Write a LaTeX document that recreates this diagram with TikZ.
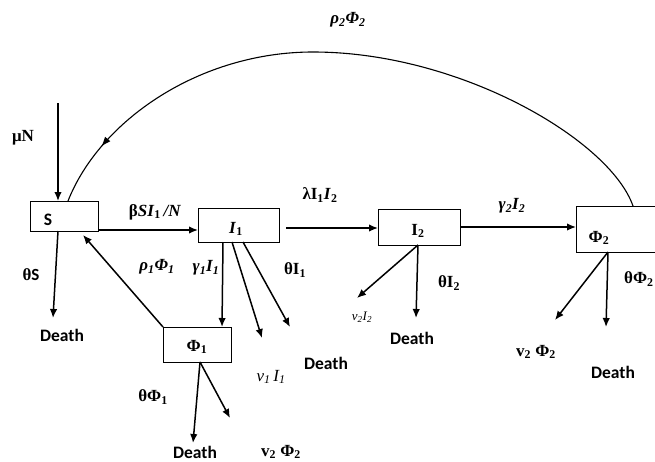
\documentclass[tikz,border=0pt]{standalone}
\usepackage{fontspec}
\setmainfont{Liberation Serif}
\newfontfamily\deathfont{Carlito}
\usetikzlibrary{arrows.meta,decorations.markings}
\begin{document}
\begin{tikzpicture}[x=1pt,y=-1pt,
  box/.style={draw, line width=0.9pt, inner sep=0pt},
  flow/.style={line width=1.5pt, -{Latex[length=9pt,width=7.5pt]}},
  curvy/.style={line width=1.1pt},
  lab/.style={font=\fontsize{17}{19}\selectfont\bfseries, inner sep=0pt},
  dlab/.style={font=\deathfont\fontsize{17.5}{19}\selectfont\bfseries, inner sep=0pt}]
\useasboundingbox (0,0) rectangle (655,461);
\clip (0,0) rectangle (655,461);
% boxes
\node[box, minimum width=68pt, minimum height=30pt] (S) at (64,216) {};
\node[box, minimum width=81pt, minimum height=34pt] (I1) at (238.5,225) {};
\node[box, minimum width=68pt, minimum height=35pt] (P1) at (197,344.5) {};
\node[box, minimum width=82pt, minimum height=36pt] (I2) at (419,227) {};
\node[box, minimum width=88pt, minimum height=46pt] (P2) at (620,229) {};
% box labels
\node[dlab] (Slab) at (48,220) {S};
\node[lab] (I1lab) at (236,229) {\textit{I}\textsubscript{1}};
\node[lab] (P1lab) at (197,347) {Φ\textsubscript{1}};
\node[lab] (I2lab) at (418,231) {I\textsubscript{2}};
\node[lab] (P2lab) at (599,238) {Φ\textsubscript{2}};
% free ends
\coordinate (muTop) at (58,103);
\coordinate (Sin) at (58,201);
\coordinate (Sout) at (98,230);
\coordinate (I1in) at (198,230);
\coordinate (I1out) at (286,228);
\coordinate (I2in) at (378,228);
\coordinate (I2out) at (460,227);
\coordinate (P2in) at (576,227);
\coordinate (SdS) at (58,231);
\coordinate (SdE) at (53,318);
\coordinate (P1tl) at (163,327);
\coordinate (Sret) at (83,235);
\coordinate (I1a) at (223,242);
\coordinate (P1in) at (222,327);
\coordinate (I1b) at (232,242);
\coordinate (I1bE) at (262,338);
\coordinate (I1c) at (243,242);
\coordinate (I1cE) at (290,327);
\coordinate (P1b) at (200,362);
\coordinate (P1dE) at (193,443);
\coordinate (P1vE) at (230,418);
\coordinate (I2b) at (418,245);
\coordinate (I2dE) at (416,318);
\coordinate (I2vE) at (357,298);
\coordinate (P2b) at (608,252);
\coordinate (P2dE) at (606,327);
\coordinate (P2vE) at (555,320);
\coordinate (P2top) at (633,206);
\coordinate (arcTop) at (313,52);
\coordinate (Stop) at (68,201);
% connectors
\draw[flow] (muTop) -- (Sin);
\draw[flow] (Sout) -- (I1in);
\draw[flow] (I1out) -- (I2in);
\draw[flow] (I2out) -- (P2in);
\draw[flow] (SdS) -- (SdE);
\draw[flow] (P1tl) -- (Sret);
\draw[flow] (I1a) -- (P1in);
\draw[flow] (I1b) -- (I1bE);
\draw[flow] (I1c) -- (I1cE);
\draw[flow] (P1b) -- (P1dE);
\draw[flow] (P1b) -- (P1vE);
\draw[flow] (I2b) -- (I2dE);
\draw[flow] (I2b) -- (I2vE);
\draw[flow] (P2b) -- (P2dE);
\draw[flow] (P2b) -- (P2vE);
\draw[curvy, postaction={decorate}, decoration={markings, mark=at position 0.905 with {\arrow{Latex[length=10pt,width=7pt]}}}]
  (P2top) .. controls (610,140) and (460,52) .. (arcTop) .. controls (200,52) and (100,120) .. (Stop);
% labels
\node[lab] (lmu) at (23,138) {μN};
\node[lab] (lrho2) at (348,20) {\textit{ρ\textsubscript{2}Φ\textsubscript{2}}};
\node[lab] (lbeta) at (155,212) {β\textit{SI}\textsubscript{1}\,\textit{/N}};
\node[lab] (lthS) at (31,275) {θ\deathfont S};
\node[dlab] (dS) at (62,335) {Death};
\node[lab] (lrho1) at (157,267) {\textit{ρ\textsubscript{1}Φ\textsubscript{1}}};
\node[lab] (lgam1) at (206,268) {\textit{γ\textsubscript{1}I\textsubscript{1}}};
\node[lab] (lthI1) at (295,270) {θI\textsubscript{1}};
\node[lab] (llam) at (320,195) {λI\textsubscript{1}\textit{I}\textsubscript{2}};
\node[font=\fontsize{17}{19}\selectfont\itshape, inner sep=0pt] (lnu1) at (271,377) {ν\textsubscript{1}\,I\textsubscript{1}};
\node[dlab] (dI1) at (326,363) {Death};
\node[lab] (lthP1) at (153,397) {θΦ\textsubscript{1}};
\node[dlab] (dP1) at (195,452) {Death};
\node[lab] (lv2a) at (281,452) {v\textsubscript{2} Φ\textsubscript{2}};
\node[lab] (lgam2) at (512,206) {\textit{γ\textsubscript{2}I\textsubscript{2}}};
\node[lab] (lthI2) at (449,283) {θI\textsubscript{2}};
\node[font=\fontsize{13}{15}\selectfont\itshape, inner sep=0pt] (lnu2) at (362,317) {ν\textsubscript{2}I\textsubscript{2}};
\node[dlab] (dI2) at (412,338) {Death};
\node[lab, anchor=west] (lthP2) at (624,279) {θΦ\textsubscript{2}};
\node[lab] (lv2b) at (536,352) {v\textsubscript{2} Φ\textsubscript{2}};
\node[dlab] (dP2) at (613,372) {Death};
\end{tikzpicture}
\end{document}
